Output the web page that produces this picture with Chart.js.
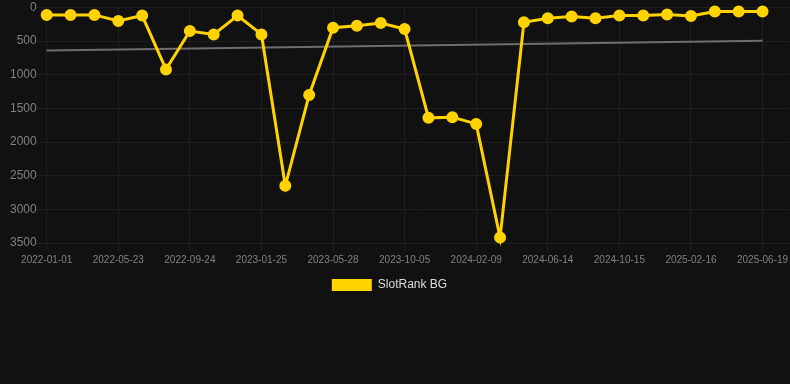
<!DOCTYPE html>
<html>
<head>
<meta charset="utf-8">
<script src="https://cdn.jsdelivr.net/npm/chart.js@4"></script>
<style>
  html, body { margin: 0; padding: 0; background: #111111; overflow: hidden; }
  #wrap { width: 797px; height: 301px; position: relative; }
</style>
</head>
<body>
<div id="wrap"><canvas id="c"></canvas></div>
<script>
// Date label for each data point (every 3rd one is shown on the axis)
const dates = [
  '2022-01-01','2022-02-17','2022-04-05','2022-05-23','2022-07-03','2022-08-13',
  '2022-09-24','2022-11-04','2022-12-15','2023-01-25','2023-03-08','2023-04-17',
  '2023-05-28','2023-07-08','2023-08-21','2023-10-05','2023-11-12','2023-12-28',
  '2024-02-09','2024-03-24','2024-05-01','2024-06-14','2024-07-26','2024-09-04',
  '2024-10-15','2024-11-23','2025-01-05','2025-02-16','2025-03-30','2025-05-09',
  '2025-06-19'
];
// Indices of the dates that appear as x-axis tick labels
const xTickIndices = [0, 3, 6, 9, 12, 15, 18, 21, 24, 27, 30];
// SlotRank BG rank values (lower is better; axis reversed)
const rankValues = [
  110, 110, 110, 200, 120, 920, 350, 400, 120, 400,
  2650, 1300, 300, 270, 230, 320, 1640, 1630, 1730, 3420,
  220, 160, 135, 160, 120, 120, 105, 125, 60, 60, 60
];
// Trend line end values (first and last point)
const trendStart = 638;
const trendEnd = 494;
const yTicks = [0, 500, 1000, 1500, 2000, 2500, 3000, 3500];
const xMax = 31.13;

const rankPoints = rankValues.map((v, i) => ({ x: i, y: v }));
const trendPoints = [
  { x: 0, y: trendStart },
  { x: rankValues.length - 1, y: trendEnd }
];

const font = 'Arial, "Liberation Sans", sans-serif';

const legendShift = {
  id: 'legendShift',
  afterLayout(chart) {
    const lg = chart.legend;
    if (lg) { lg.left -= 14; lg.right -= 14; }
  }
};

new Chart(document.getElementById('c'), {
  type: 'line',
  data: {
    datasets: [
      {
        label: 'SlotRank BG',
        data: rankPoints,
        borderColor: '#FFD200',
        backgroundColor: '#FFD200',
        borderWidth: 3,
        pointRadius: 4.5,
        pointHoverRadius: 4.5,
        pointBackgroundColor: '#FFD200',
        pointBorderColor: '#FFD200',
        tension: 0,
        clip: false,
        order: 1
      },
      {
        label: 'trend',
        data: trendPoints,
        borderColor: '#6e6e6e',
        backgroundColor: '#6e6e6e',
        borderWidth: 2,
        pointRadius: 0,
        tension: 0,
        clip: false,
        order: 2
      }
    ]
  },
  plugins: [legendShift],
  options: {
    responsive: true,
    maintainAspectRatio: false,
    animation: false,
    layout: { padding: { left: 10, top: 0, right: 0, bottom: 0 } },
    plugins: {
      legend: {
        position: 'bottom',
        labels: {
          color: '#dddddd',
          font: { family: font, size: 12 },
          boxWidth: 40,
          boxHeight: 12,
          filter: (item) => item.text !== 'trend',
          generateLabels: (chart) => {
            const items = Chart.defaults.plugins.legend.labels.generateLabels(chart);
            items.forEach(it => { it.lineWidth = 0; });
            return items;
          }
        }
      },
      tooltip: { enabled: false }
    },
    scales: {
      x: {
        type: 'linear',
        min: 0,
        max: xMax,
        grid: { color: '#1f1f1f', tickLength: 8 },
        border: { color: '#1f1f1f' },
        afterBuildTicks: (axis) => { axis.ticks = xTickIndices.map(v => ({ value: v })); },
        ticks: {
          color: '#808080',
          autoSkip: false,
          maxRotation: 0,
          font: { family: font, size: 10 },
          callback: (v) => dates[v]
        }
      },
      y: {
        reverse: true,
        min: yTicks[0],
        max: yTicks[yTicks.length - 1],
        grid: { color: '#1f1f1f', tickLength: 10 },
        border: { color: '#1f1f1f' },
        afterBuildTicks: (axis) => { axis.ticks = yTicks.map(v => ({ value: v })); },
        ticks: {
          color: '#808080',
          padding: 0,
          font: { family: font, size: 12 },
          callback: (v) => String(v)
        }
      }
    }
  }
});
</script>
</body>
</html>
